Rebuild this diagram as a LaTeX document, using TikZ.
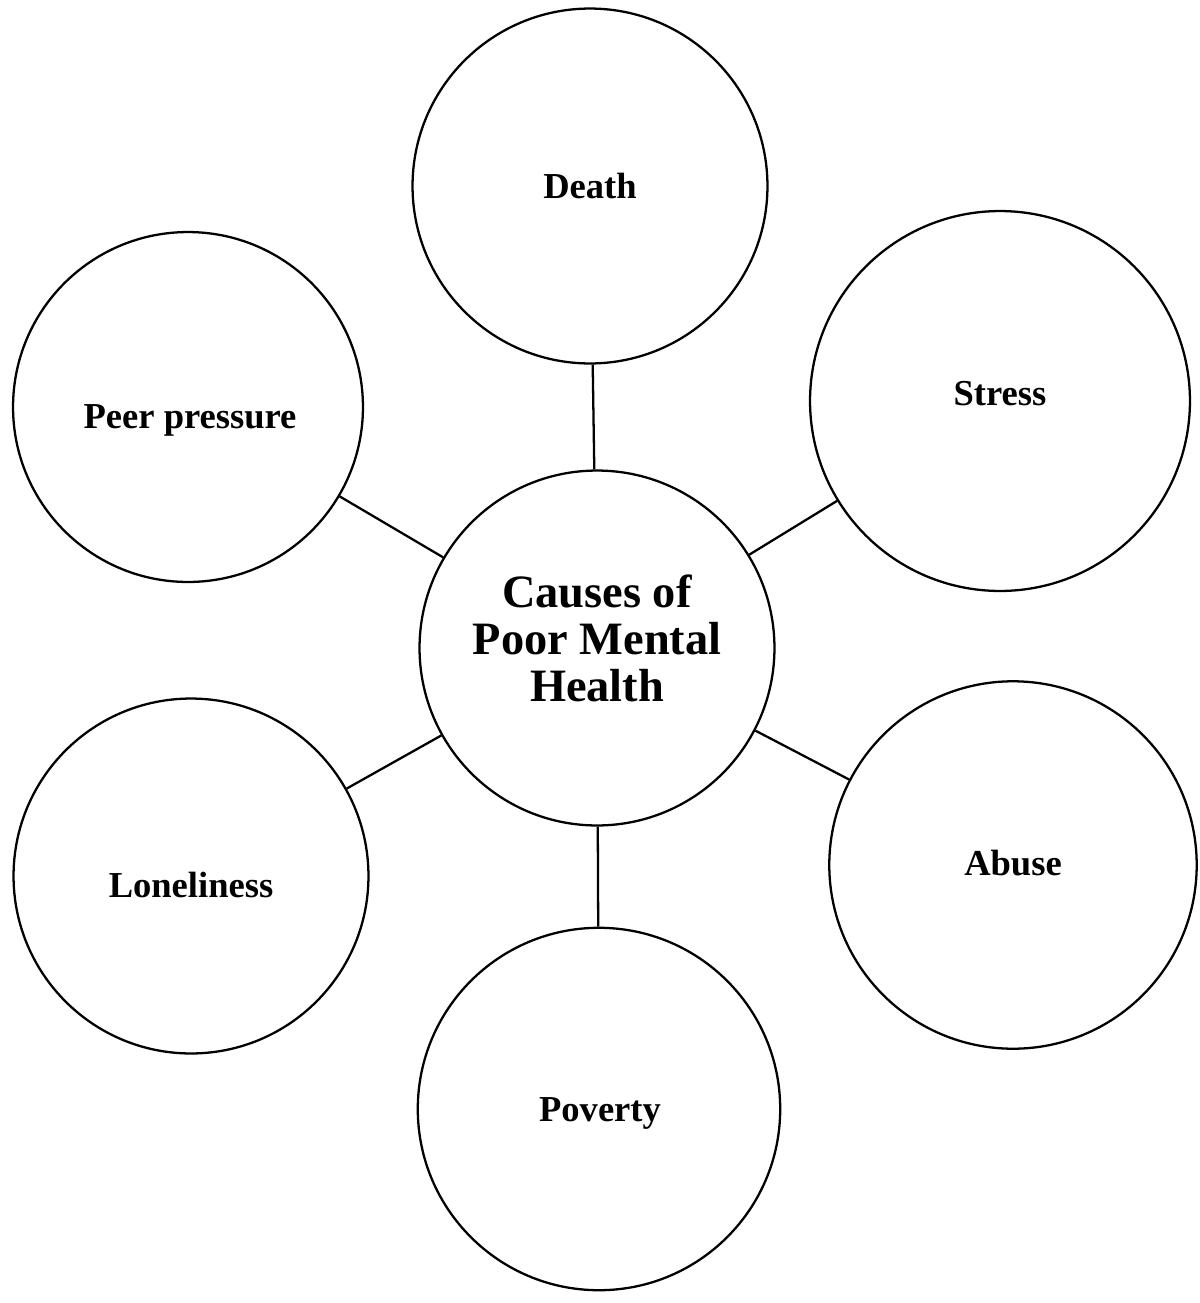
\documentclass[tikz,border=0pt]{standalone}
\usepackage{fontspec}
\setmainfont{Liberation Serif}
\begin{document}
\begin{tikzpicture}[x=0.02cm,y=-0.02cm,
  btext/.style={font=\fontsize{20.8}{22}\selectfont\bfseries},
  hub/.style={draw,line width=1.3pt,circle,inner sep=0pt},
  htext/.style={align=center,font=\fontsize{26.4}{26.8}\selectfont\bfseries},
  link/.style={line width=1.3pt}]
\useasboundingbox (0,0) rectangle (1200,1303);
\node[hub,minimum size=7.1cm] (c) at (597,648) {};
\node[htext] (ct) at (597,638) {Causes of\\Poor Mental\\Health};
\node[hub,minimum size=7.1cm] (death) at (590,186) {};
\node[btext] (deatht) at (590,186) {Death};
\node[hub,minimum size=7.6cm] (stress) at (1000,401) {};
\node[btext] (stresst) at (1000,394) {Stress};
\node[hub,minimum size=7.0cm] (peer) at (188,407) {};
\node[btext] (peert) at (190,420) {Peer pressure};
\node[hub,minimum size=7.1cm] (lonely) at (191,876) {};
\node[btext] (lonelyt) at (191,885) {Loneliness};
\node[hub,minimum size=7.35cm] (abuse) at (1013,865) {};
\node[btext] (abuset) at (1013,863) {Abuse};
\node[hub,minimum size=7.25cm] (pov) at (599,1109) {};
\node[btext] (povt) at (600,1113) {Poverty};
\draw[link] (c) -- (death);
\draw[link] (c) -- (stress);
\draw[link] (c) -- (peer);
\draw[link] (c) -- (lonely);
\draw[link] (c) -- (abuse);
\draw[link] (c) -- (pov);
\end{tikzpicture}
\end{document}
